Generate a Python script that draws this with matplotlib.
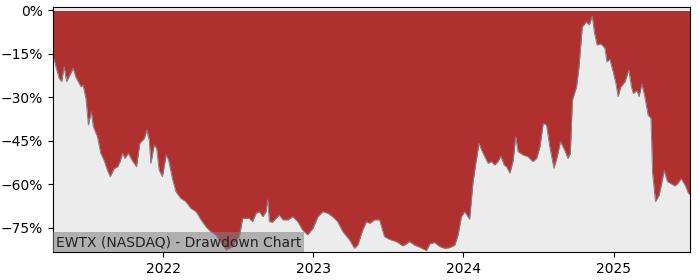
import matplotlib
matplotlib.use("Agg")
import matplotlib.pyplot as plt
import matplotlib.dates as mdates
import matplotlib.ticker as mticker
import pandas as pd

dates = [
    "2021-04-08", "2021-04-15", "2021-04-23", "2021-04-29", "2021-05-05", "2021-05-11",
    "2021-05-19", "2021-05-27", "2021-06-02", "2021-06-15", "2021-06-20", "2021-06-27",
    "2021-07-03", "2021-07-10", "2021-07-15", "2021-07-25", "2021-08-02", "2021-08-10",
    "2021-08-18", "2021-08-25", "2021-09-04", "2021-09-12", "2021-09-18", "2021-09-24",
    "2021-09-30", "2021-10-08", "2021-10-17", "2021-10-28", "2021-11-05", "2021-11-16",
    "2021-11-22", "2021-11-28", "2021-12-02", "2021-12-10", "2021-12-16", "2021-12-22",
    "2021-12-30", "2022-01-08", "2022-01-14", "2022-01-24", "2022-02-01", "2022-02-13",
    "2022-02-25", "2022-03-09", "2022-03-22", "2022-04-03", "2022-04-15", "2022-04-27",
    "2022-05-09", "2022-05-17", "2022-06-03", "2022-06-11", "2022-06-19", "2022-07-05",
    "2022-07-13", "2022-07-29", "2022-08-06", "2022-08-15", "2022-08-23", "2022-08-31",
    "2022-09-08", "2022-09-12", "2022-09-16", "2022-09-24", "2022-10-02", "2022-10-10",
    "2022-10-19", "2022-10-31", "2022-11-12", "2022-11-24", "2022-12-06", "2022-12-18",
    "2022-12-31", "2023-01-12", "2023-01-24", "2023-02-05", "2023-02-17", "2023-03-01",
    "2023-03-14", "2023-03-30", "2023-04-11", "2023-04-19", "2023-05-01", "2023-05-10",
    "2023-05-18", "2023-05-30", "2023-06-11", "2023-06-23", "2023-07-05", "2023-07-22",
    "2023-08-07", "2023-08-23", "2023-09-04", "2023-09-16", "2023-10-03", "2023-10-11",
    "2023-10-23", "2023-11-04", "2023-11-16", "2023-11-28", "2023-12-11", "2023-12-19",
    "2023-12-27", "2024-01-04", "2024-01-12", "2024-01-16", "2024-01-24", "2024-01-31",
    "2024-02-08", "2024-02-14", "2024-02-22", "2024-03-01", "2024-03-09", "2024-03-17",
    "2024-03-25", "2024-04-01", "2024-04-09", "2024-04-15", "2024-04-23", "2024-05-01",
    "2024-05-07", "2024-05-13", "2024-05-25", "2024-06-06", "2024-06-18", "2024-06-27",
    "2024-07-05", "2024-07-13", "2024-07-21", "2024-07-29", "2024-08-08", "2024-08-16",
    "2024-08-24", "2024-09-03", "2024-09-11", "2024-09-17", "2024-09-22", "2024-10-02",
    "2024-10-08", "2024-10-16", "2024-10-26", "2024-11-02", "2024-11-09", "2024-11-15",
    "2024-11-21", "2024-11-30", "2024-12-10", "2024-12-15", "2024-12-22", "2024-12-30",
    "2025-01-06", "2025-01-11", "2025-01-17", "2025-01-28", "2025-02-06", "2025-02-13",
    "2025-02-17", "2025-02-26", "2025-03-03", "2025-03-10", "2025-03-17", "2025-03-25",
    "2025-04-01", "2025-04-05", "2025-04-12", "2025-04-21", "2025-04-27", "2025-05-03",
    "2025-05-11", "2025-05-21", "2025-05-29", "2025-06-06", "2025-06-13", "2025-06-23",
    "2025-07-01", "2025-07-05",
]

drawdown = [
    -15.3, -19.4, -23.4, -24.5, -19.4, -24.5,
    -22.2, -19.9, -22.8, -26.3, -25.7, -30.3,
    -39.5, -34.9, -40.1, -43.5, -49.2, -51.6,
    -55.0, -57.3, -54.4, -53.9, -52.1, -49.2,
    -51.0, -49.2, -51.6, -53.9, -45.8, -44.1,
    -41.2, -44.7, -52.7, -46.4, -47.5, -55.0,
    -57.3, -49.8, -51.6, -58.4, -62.5, -64.8,
    -65.9, -68.2, -69.4, -72.2, -74.6, -76.3,
    -77.4, -79.1, -82.6, -82.0, -81.4, -78.0,
    -71.7, -71.7, -72.8, -69.9, -69.4, -71.1,
    -69.4, -65.3, -72.8, -73.0, -71.7, -70.5,
    -72.2, -72.2, -71.1, -72.8, -75.7, -77.4,
    -75.1, -71.1, -69.4, -69.9, -71.1, -72.8,
    -76.3, -79.1, -82.0, -80.9, -75.7, -72.8,
    -73.4, -72.2, -72.2, -78.0, -78.9, -79.7,
    -81.2, -79.7, -80.9, -81.6, -82.8, -80.5,
    -80.0, -81.4, -82.0, -81.8, -80.9, -77.4,
    -71.1, -69.4, -71.1, -72.0, -59.6, -52.7,
    -45.8, -48.1, -50.4, -52.7, -52.1, -53.3,
    -52.1, -50.2, -53.3, -53.9, -56.1, -51.6,
    -43.5, -48.7, -49.8, -50.4, -52.1, -51.0,
    -47.0, -38.9, -39.5, -47.0, -54.4, -50.4,
    -45.2, -48.1, -51.0, -49.2, -30.9, -26.3,
    -19.4, -5.6, -3.9, -5.0, -1.9, -7.9,
    -11.9, -11.5, -13.0, -17.7, -16.8, -21.1,
    -25.3, -29.7, -26.5, -24.5, -20.5, -26.5,
    -28.6, -27.6, -29.7, -25.3, -29.7, -36.0,
    -37.2, -56.1, -65.9, -63.6, -59.6, -55.2,
    -59.0, -59.8, -60.5, -59.5, -57.9, -60.2,
    -63.0, -63.5,
]

y_ticks = [0, -15, -30, -45, -60, -75]
title_text = "EWTX (NASDAQ) - Drawdown Chart"

x = pd.to_datetime(dates)

fig = plt.figure(figsize=(7, 2.8), dpi=100)
ax = fig.add_axes([0.0757, 0.1, 0.91, 0.875])
ax.set_facecolor("#ececec")

ax.fill_between(x, drawdown, 0, color="#b03030", linewidth=0)
ax.plot(x, drawdown, color="#808080", linewidth=0.7)

ax.set_xlim(x[0], x[-1])
ax.set_ylim(-83.3, 1.2)
ax.set_yticks(y_ticks)
ax.yaxis.set_major_formatter(mticker.FuncFormatter(lambda v, p: f"{v:.0f}%".replace("-", "\u2212")))
ax.xaxis.set_major_locator(mdates.YearLocator())
ax.xaxis.set_major_formatter(mdates.DateFormatter("%Y"))
ax.tick_params(labelsize=10)

ax.text(0.005, 0.012, title_text, transform=ax.transAxes, fontsize=10,
        color="#222222", va="bottom", ha="left",
        bbox=dict(facecolor="grey", alpha=0.55, edgecolor="none", pad=2))

fig.savefig("out.png", dpi=100)
